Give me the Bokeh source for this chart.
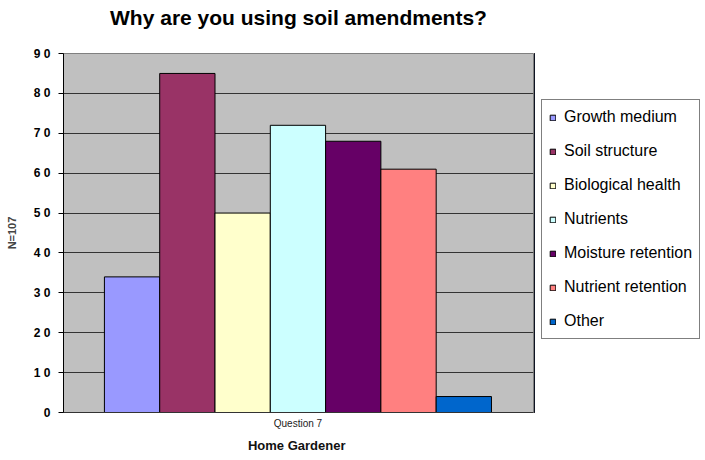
from bokeh.plotting import figure
from bokeh.layouts import row
from bokeh.models import ColumnDataSource, Legend, LegendItem, FixedTicker, Range1d, Title
from bokeh.embed import file_html
from bokeh.resources import INLINE

categories = ["Growth medium", "Soil structure", "Biological health", "Nutrients",
              "Moisture retention", "Nutrient retention", "Other"]
values = [34, 85, 50, 72, 68, 61, 4]
colors = ["#9999FF", "#993366", "#FFFFCC", "#CCFFFF", "#660066", "#FF8080", "#0066CC"]
y_ticks = [0, 10, 20, 30, 40, 50, 60, 70, 80, 90]
x_tick_label = "Question 7"
title_text = "Why are you using soil amendments?"
x_axis_title = "Home  Gardener"
y_axis_title = "N=107"

FONT = "Liberation Sans"

idx = list(range(len(categories)))
src = ColumnDataSource(dict(x=idx, top=values, color=colors, cat=categories))

p = figure(width=534, height=460, output_backend="svg", toolbar_location=None,
           x_range=Range1d(-1.24, len(categories) - 0.5 + 0.76),
           y_range=Range1d(0, 90),
           min_border_left=63, min_border_right=1, min_border_top=53, min_border_bottom=48)

# spacer between title and plot area (title sits outermost in the "above" panel)
p.add_layout(Title(text=" ", text_font=FONT, text_font_size="8px", standoff=8), "above")

p.title.text = title_text
p.title.align = "center"
p.title.vertical_align = "top"
p.title.text_font = FONT
p.title.text_font_size = "21px"
p.title.text_font_style = "bold"
p.title.text_color = "black"
p.title.standoff = 8

p.background_fill_color = "#C0C0C0"
p.border_fill_color = "white"
p.outline_line_color = "#808080"

r = p.vbar(x="x", top="top", width=1.0, bottom=0, fill_color="color",
           line_color="black", line_width=1, source=src)

# y axis
p.yaxis.ticker = FixedTicker(ticks=y_ticks)
p.yaxis.major_label_overrides = {t: " ".join(str(t)) for t in y_ticks}
p.yaxis.major_label_text_font = FONT
p.yaxis.major_label_text_font_size = "12px"
p.yaxis.major_label_text_font_style = "bold"
p.yaxis.major_label_text_color = "black"
p.yaxis.major_tick_out = 5
p.yaxis.major_tick_in = 0
p.yaxis.minor_tick_line_color = None
p.yaxis.major_label_standoff = 8
p.yaxis.axis_line_color = "black"
p.yaxis.major_tick_line_color = "black"
p.yaxis.axis_label = y_axis_title
p.yaxis.axis_label_text_font = FONT
p.yaxis.axis_label_text_font_size = "11px"
p.yaxis.axis_label_text_font_style = "bold"
p.yaxis.axis_label_standoff = 13

# x axis
center = (len(categories) - 1) / 2
p.xaxis.ticker = FixedTicker(ticks=[center])
p.xaxis.major_label_overrides = {center: x_tick_label}
p.xaxis.major_label_text_font = FONT
p.xaxis.major_label_text_font_size = "10px"
p.xaxis.major_label_text_color = "#222222"
p.xaxis.major_tick_out = 0
p.xaxis.major_tick_in = 0
p.xaxis.minor_tick_line_color = None
p.xaxis.major_label_standoff = 5
p.xaxis.axis_line_color = "#333333"
p.xaxis.axis_label = x_axis_title
p.xaxis.axis_label_text_font = FONT
p.xaxis.axis_label_text_font_size = "13px"
p.xaxis.axis_label_text_font_style = "bold"
p.xaxis.axis_label_text_color = "#111111"
p.xaxis.axis_label_standoff = 6

p.xgrid.grid_line_color = None
p.ygrid.ticker = FixedTicker(ticks=y_ticks)
p.ygrid.grid_line_color = "#333333"
p.ygrid.grid_line_width = 1

# legend panel: a second figure that holds the legend; its renderer uses the same
# source, but its x range lies away from the data so no bars show there
p2 = figure(width=171, height=460, output_backend="svg", toolbar_location=None,
            x_range=Range1d(100, 101), y_range=Range1d(0, 1), min_border=0,
            x_axis_location=None, y_axis_location=None)
p2.grid.visible = False
p2.outline_line_color = None
p2.background_fill_color = "white"
p2.border_fill_color = "white"

r2 = p2.vbar(x="x", top="top", width=1.0, bottom=0, fill_color="color",
             line_color="black", line_width=1, source=src)
items = [LegendItem(label=c, renderers=[r2], index=i) for i, c in enumerate(categories)]

legend = Legend(items=items, location=(7, 73), orientation="vertical",
                label_text_font=FONT, label_text_font_size="16px", label_text_color="black",
                glyph_width=7, glyph_height=7, label_height=20, spacing=14,
                label_standoff=8, padding=7, margin=0,
                border_line_color="black", border_line_width=1,
                background_fill_color="white", background_fill_alpha=1.0)
p2.add_layout(legend, "center")

layout = row(p, p2, spacing=0)
open("out.html", "w").write(file_html(layout, INLINE))
